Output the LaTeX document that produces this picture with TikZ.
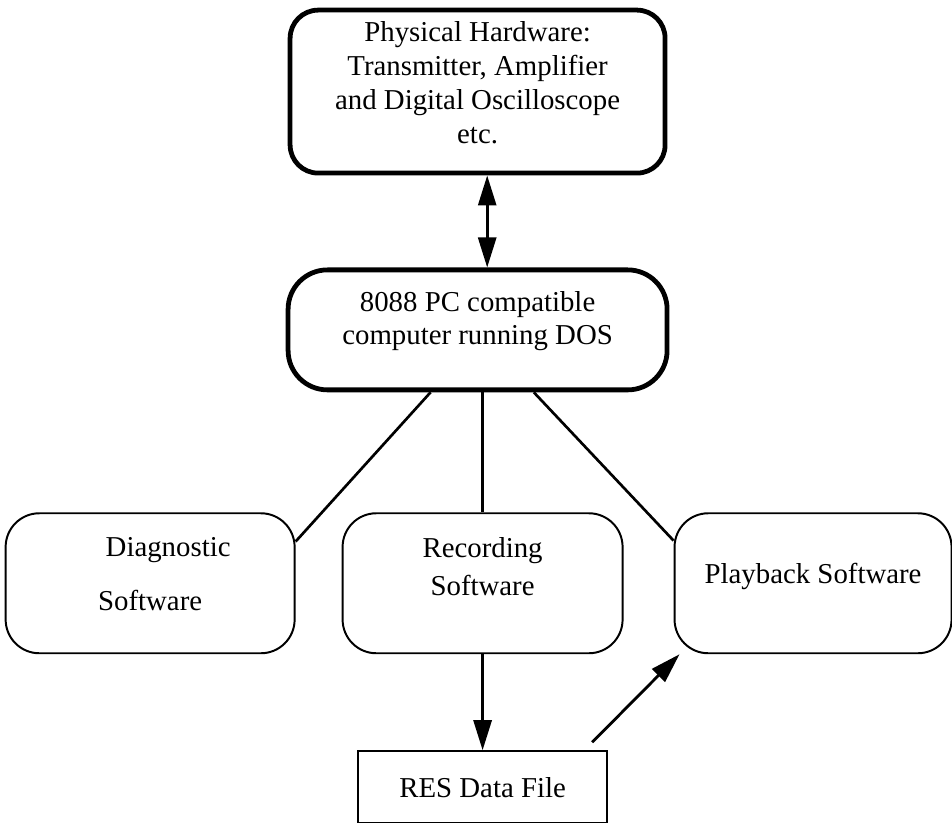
\documentclass[tikz,border=0pt]{standalone}
\usepackage{fontspec}
\setmainfont{Liberation Serif}
\usetikzlibrary{positioning, arrows.meta, calc}

\begin{document}
\begin{tikzpicture}[
        txt/.style={font=\fontsize{20.5}{24}\selectfont, align=center},
        hb/.style={txt, draw, line width=3.4pt, rounded corners=20pt},
        sb/.style={txt, draw, line width=1.4pt, rounded corners=24pt, minimum width=7cm, minimum height=3.5cm},
        fb/.style={txt, draw, line width=1.6pt, minimum width=6.225cm, minimum height=1.8cm},
        ar/.style={-{Triangle[length=0.75cm, width=0.45cm]}, line width=2pt},
        ln/.style={line width=1.9pt}]
  \useasboundingbox (0,0) rectangle (23.8,-20.575);
  \node[hb, minimum width=9.375cm, minimum height=4.075cm, text depth=0.45cm] (hw) at (11.94,-2.29) {Physical Hardware:\\Transmitter, Amplifier\\and Digital Oscilloscope\\etc.};
  \node[hb, minimum width=9.475cm, minimum height=3cm, rounded corners=28pt, text depth=0.6cm, below=2.3cm of hw] (pc) {8088 PC compatible\\computer running DOS};
  \node[sb, text depth=0.85cm, below=3cm of pc, xshift=0.125cm] (rec) {Recording\\[0.1cm]Software};
  \node[sb, minimum width=7.225cm, text depth=0.45cm, left=1.15cm of rec] (diag) {\hspace*{0.9cm}Diagnostic\\[0.5cm]Software};
  \node[sb, minimum width=6.925cm, text depth=0.5cm, right=1.25cm of rec] (play) {Playback Software};
  \node[fb, below=2.4cm of rec] (res) {RES Data File};
  \coordinate (resout) at ($(res.north east)+(-0.4,0.2)$);
  \draw[ar, {Triangle[length=0.75cm, width=0.45cm]}-{Triangle[length=0.75cm, width=0.45cm]}] ($(hw.south)+(0.24,0)$) -- ($(pc.north)+(0.24,0)$);
  \draw[ln] (pc.233) -- (diag.16);
  \draw[ln] (rec.north |- pc.south) -- (rec.north);
  \draw[ln] (pc.-48) -- (play.163);
  \draw[ar] (rec.south) -- (res.north);
  \draw[ar] (resout) -- (play.208);
\end{tikzpicture}
\end{document}
